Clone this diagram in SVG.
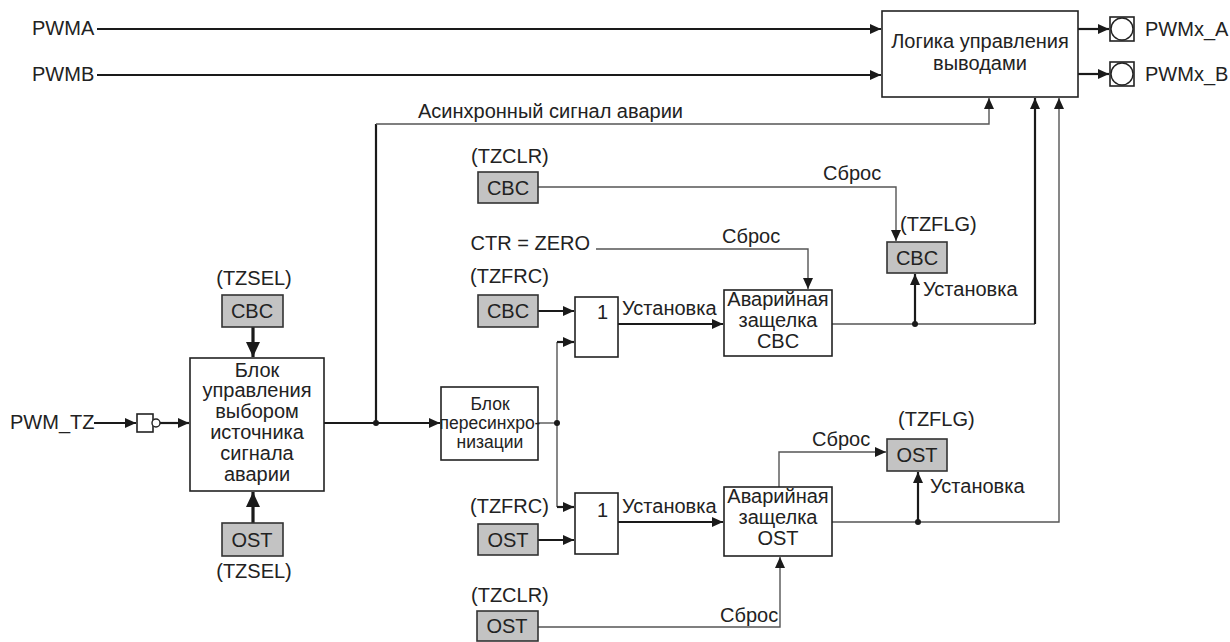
<svg xmlns="http://www.w3.org/2000/svg" width="1230" height="642" viewBox="0 0 1230 642">
<defs>
<style>
text{font-family:"Liberation Sans",Arial,sans-serif;font-size:20px;fill:#222}
.c{text-anchor:middle}
.e{text-anchor:end}
.sm{font-size:17.5px}
.box{fill:#fff;stroke:#222;stroke-width:1.6}
.gray{fill:#c3c3c3;stroke:#333;stroke-width:1.6}
.thick{fill:none;stroke:#1a1a1a;stroke-width:2.2}
.bold{fill:none;stroke:#1a1a1a;stroke-width:3.2}
.thin{fill:none;stroke:#555;stroke-width:1.4}
.dot{fill:#1a1a1a}
</style>
<marker id="ah" markerUnits="userSpaceOnUse" markerWidth="12" markerHeight="10" refX="11" refY="5" orient="auto">
<path d="M0,0 L11,5 L0,10 Z" fill="#1a1a1a"/>
</marker>
<marker id="ahb" markerUnits="userSpaceOnUse" markerWidth="16" markerHeight="14" refX="15" refY="7" orient="auto">
<path d="M0,0 L15,7 L0,14 Z" fill="#1a1a1a"/>
</marker>
</defs>
<rect width="1230" height="642" fill="#fff"/>

<g id="connectors">
<path class="thick" d="M97,29 H881" marker-end="url(#ah)"/>
<path class="thick" d="M97,75 H881" marker-end="url(#ah)"/>
<path class="thick" d="M1078,29 H1109" marker-end="url(#ah)"/>
<path class="thick" d="M1078,74 H1109" marker-end="url(#ah)"/>
<path class="thick" d="M94,423 H136" marker-end="url(#ah)"/>
<path class="thick" d="M160,423 H189" marker-end="url(#ah)"/>
<path class="bold" d="M253,327 V357" marker-end="url(#ahb)"/>
<path class="bold" d="M253,523 V492" marker-end="url(#ahb)"/>
<path class="thick" d="M324,423 H440" marker-end="url(#ah)"/>
<path class="thick" d="M376,423 V124"/>
<path class="thin" d="M376,124 H989 V98" marker-end="url(#ah)"/>
<path class="thin" d="M538,423 H557"/>
<path class="thin" d="M557,342 V507"/>
<path class="thick" d="M557,342 H574" marker-end="url(#ah)"/>
<path class="thick" d="M557,507 H574" marker-end="url(#ah)"/>
<path class="thick" d="M538,311 H574" marker-end="url(#ah)"/>
<path class="thick" d="M538,540 H574" marker-end="url(#ah)"/>
<path class="thick" d="M618,324 H723" marker-end="url(#ah)"/>
<path class="thick" d="M618,522 H723" marker-end="url(#ah)"/>
<path class="thin" d="M538,187 H896 V241" marker-end="url(#ah)"/>
<path class="thin" d="M596,249 H808 V289" marker-end="url(#ah)"/>
<path class="thin" d="M832,324 H1035"/>
<path class="thick" d="M1035,324 V98" marker-end="url(#ah)"/>
<path class="thick" d="M915,324 V274" marker-end="url(#ah)"/>
<path class="thin" d="M779,487 V452 H886" marker-end="url(#ah)"/>
<path class="thin" d="M832,522 H1059 V98" marker-end="url(#ah)"/>
<path class="thick" d="M918,522 V472" marker-end="url(#ah)"/>
<path class="thin" d="M538,627 H780 V557" marker-end="url(#ah)"/>
<circle class="dot" cx="376" cy="423" r="3"/>
<circle class="dot" cx="557" cy="423" r="3"/>
<circle class="dot" cx="915" cy="324" r="3"/>
<circle class="dot" cx="918" cy="522" r="3"/>
</g>

<g id="labels">
<text x="32" y="35">PWMA</text>
<text x="32" y="81">PWMB</text>
<text x="10" y="429">PWM_TZ</text>
<text x="418" y="118">Асинхронный сигнал аварии</text>
<text x="823" y="180">Сброс</text>
<text class="e" x="590" y="250">CTR = ZERO</text>
<text x="722" y="243">Сброс</text>
<text x="622" y="315">Установка</text>
<text x="622" y="513">Установка</text>
<text x="923" y="296">Установка</text>
<text x="930" y="493">Установка</text>
<text x="812" y="446">Сброс</text>
<text x="720" y="622">Сброс</text>
</g>

<g id="logic">
<rect class="box" x="882" y="11" width="196" height="86"/>
<text class="c" x="980" y="48">Логика управления</text>
<text class="c" x="980" y="70">выводами</text>
</g>
<g id="outA">
<rect class="box" x="1110" y="17" width="24" height="24"/>
<circle cx="1122" cy="29" r="11" fill="#fff" stroke="#222" stroke-width="1.4"/>
<text x="1145" y="36">PWMx_A</text>
</g>
<g id="outB">
<rect class="box" x="1110" y="62" width="24" height="24"/>
<circle cx="1122" cy="74" r="11" fill="#fff" stroke="#222" stroke-width="1.4"/>
<text x="1145" y="81">PWMx_B</text>
</g>
<g id="inbuf">
<rect class="box" x="137" y="414" width="16" height="18"/>
<circle cx="156" cy="423" r="4" fill="#fff" stroke="#222" stroke-width="1.4"/>
</g>
<g id="tzsel-cbc">
<text class="c" x="254" y="285">(TZSEL)</text>
<rect class="gray" x="222" y="295" width="61" height="32"/>
<text class="c" x="252" y="318">CBC</text>
</g>
<g id="tzsel-ost">
<rect class="gray" x="222" y="523" width="61" height="33"/>
<text class="c" x="252" y="547">OST</text>
<text class="c" x="254" y="578">(TZSEL)</text>
</g>
<g id="select">
<rect class="box" x="190" y="358" width="134" height="133"/>
<text class="c" x="257" y="377">Блок</text>
<text class="c" x="257" y="397">управления</text>
<text class="c" x="257" y="418">выбором</text>
<text class="c" x="257" y="439">источника</text>
<text class="c" x="257" y="460">сигнала</text>
<text class="c" x="257" y="481">аварии</text>
</g>
<g id="resync">
<rect class="box" x="441" y="387" width="97" height="73"/>
<text class="c sm" x="490" y="410">Блок</text>
<text class="c sm" x="490" y="429">пересинхро-</text>
<text class="c sm" x="490" y="448">низации</text>
</g>
<g id="tzclr-cbc">
<text x="471" y="163">(TZCLR)</text>
<rect class="gray" x="478" y="172" width="60" height="31"/>
<text class="c" x="508" y="195">CBC</text>
</g>
<g id="tzfrc-cbc">
<text x="470" y="283">(TZFRC)</text>
<rect class="gray" x="478" y="295" width="60" height="32"/>
<text class="c" x="508" y="318">CBC</text>
</g>
<g id="or-cbc">
<rect class="box" x="575" y="297" width="43" height="60"/>
<text x="597" y="319">1</text>
</g>
<g id="latch-cbc">
<rect class="box" x="724" y="290" width="108" height="66"/>
<text class="c" x="778" y="306">Аварийная</text>
<text class="c" x="778" y="327">защелка</text>
<text class="c" x="778" y="348">CBC</text>
</g>
<g id="flg-cbc">
<text x="900" y="231">(TZFLG)</text>
<rect class="gray" x="887" y="242" width="60" height="31"/>
<text class="c" x="917" y="265">CBC</text>
</g>
<g id="tzfrc-ost">
<text x="470" y="513">(TZFRC)</text>
<rect class="gray" x="478" y="524" width="60" height="31"/>
<text class="c" x="508" y="547">OST</text>
</g>
<g id="or-ost">
<rect class="box" x="575" y="493" width="43" height="61"/>
<text x="597" y="517">1</text>
</g>
<g id="latch-ost">
<rect class="box" x="724" y="487" width="108" height="69"/>
<text class="c" x="778" y="503">Аварийная</text>
<text class="c" x="778" y="524">защелка</text>
<text class="c" x="778" y="545">OST</text>
</g>
<g id="flg-ost">
<text x="898" y="426">(TZFLG)</text>
<rect class="gray" x="887" y="439" width="60" height="32"/>
<text class="c" x="917" y="462">OST</text>
</g>
<g id="tzclr-ost">
<text x="471" y="602">(TZCLR)</text>
<rect class="gray" x="477" y="611" width="61" height="30"/>
<text class="c" x="507" y="633">OST</text>
</g>
</svg>
